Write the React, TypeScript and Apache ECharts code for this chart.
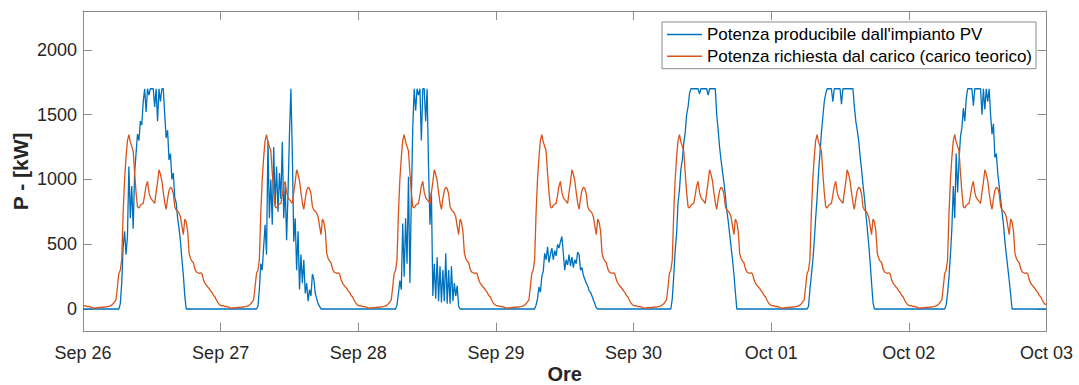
import React, { useEffect, useRef } from "react";
import * as echarts from "echarts";

// Tick labels
const dayLabels = ["Sep 26", "Sep 27", "Sep 28", "Sep 29", "Sep 30", "Oct 01", "Oct 02", "Oct 03"];
const yTicks = [0, 500, 1000, 1500, 2000];
const stepHours = 0.25; // 15-minute samples

const seriesNames = [
  "Potenza producibile dall'impianto PV",
  "Potenza richiesta dal carico (carico teorico)",
];

// Theoretical load: the same 96-sample (15 min) profile every day, kW
const caricoGiornaliero = [
  28, 24, 26, 18, 20, 16, 12, 8, 6, 10, 8, 12, 10, 14, 12, 16,
  15, 18, 20, 24, 30, 40, 55, 70, 170, 275, 300, 380, 740, 1000, 1170, 1300,
  1345, 1290, 1255, 1220, 1050, 900, 790, 780, 800, 810, 815, 880, 950, 985, 900, 860,
  845, 830, 815, 900, 980, 1075, 1040, 990, 900, 820, 770, 850, 915, 940, 930, 890,
  790, 765, 755, 740, 710, 640, 575, 695, 670, 600, 430, 390, 370, 357, 310, 287,
  280, 275, 280, 270, 225, 200, 185, 170, 158, 140, 128, 105, 95, 70, 50, 35,
];
const caricoFine = 38;

// PV power, 96 samples (15 min) per day, kW
const pvSep26 = [
  0, 0, 0, 0, 0, 0, 0, 0, 0, 0, 0, 0, 0, 0, 0, 0,
  0, 0, 0, 0, 0, 0, 0, 0, 0, 0, 40, 200, 480, 600, 420, 560,
  1100, 700, 950, 620, 1050, 1200, 1350, 1300, 1450, 1420, 1600, 1700, 1520, 1700, 1650, 1700,
  1700, 1700, 1560, 1700, 1450, 1700, 1600, 1700, 1700, 1500, 1320, 1380, 1150, 1200, 1000, 1050,
  860, 820, 700, 620, 520, 380, 260, 100, 0, 0, 0, 0, 0, 0, 0, 0,
  0, 0, 0, 0, 0, 0, 0, 0, 0, 0, 0, 0, 0, 0, 0, 0,
];
const pvSep27 = [
  0, 0, 0, 0, 0, 0, 0, 0, 0, 0, 0, 0, 0, 0, 0, 0,
  0, 0, 0, 0, 0, 0, 0, 0, 0, 0, 20, 150, 350, 300, 480, 650,
  420, 1300, 700, 1000, 650, 1250, 800, 1100, 750, 1050, 850, 1290, 700, 950, 530, 900,
  1350, 1700, 1200, 520, 700, 300, 600, 150, 420, 200, 380, 120, 200, 60, 150, 100,
  270, 230, 120, 80, 40, 20, 0, 0, 0, 0, 0, 0, 0, 0, 0, 0,
  0, 0, 0, 0, 0, 0, 0, 0, 0, 0, 0, 0, 0, 0, 0, 0,
];
const pvSep28 = [
  0, 0, 0, 0, 0, 0, 0, 0, 0, 0, 0, 0, 0, 0, 0, 0,
  0, 0, 0, 0, 0, 0, 0, 0, 0, 0, 0, 30, 120, 220, 150, 660,
  250, 700, 350, 1020, 200, 850, 1400, 1700, 1530, 1700, 1650, 1700, 1300, 1700, 1700, 1450,
  1700, 1100, 650, 900, 100, 350, 80, 400, 60, 330, 50, 300, 60, 430, 40, 300,
  40, 330, 60, 200, 100, 180, 20, 0, 0, 0, 0, 0, 0, 0, 0, 0,
  0, 0, 0, 0, 0, 0, 0, 0, 0, 0, 0, 0, 0, 0, 0, 0,
];
const pvSep29 = [
  0, 0, 0, 0, 0, 0, 0, 0, 0, 0, 0, 0, 0, 0, 0, 0,
  0, 0, 0, 0, 0, 0, 0, 0, 0, 0, 0, 0, 30, 80, 170, 130,
  250, 290, 430, 380, 480, 360, 420, 470, 380, 450, 410, 500, 470, 520, 560, 430,
  300, 380, 340, 420, 330, 400, 320, 380, 350, 440, 420, 300, 320, 260, 230, 200,
  180, 140, 130, 100, 70, 40, 10, 0, 0, 0, 0, 0, 0, 0, 0, 0,
  0, 0, 0, 0, 0, 0, 0, 0, 0, 0, 0, 0, 0, 0, 0, 0,
];
const pvSep30 = [
  0, 0, 0, 0, 0, 0, 0, 0, 0, 0, 0, 0, 0, 0, 0, 0,
  0, 0, 0, 0, 0, 0, 0, 0, 0, 0, 0, 80, 250, 450, 580, 820,
  920, 1080, 1150, 1280, 1360, 1500, 1560, 1660, 1700, 1700, 1700, 1700, 1700, 1700, 1660, 1700,
  1700, 1700, 1700, 1700, 1650, 1700, 1700, 1700, 1700, 1700, 1500, 1380, 1250, 1150, 1060, 980,
  880, 760, 680, 580, 480, 380, 270, 130, 0, 0, 0, 0, 0, 0, 0, 0,
  0, 0, 0, 0, 0, 0, 0, 0, 0, 0, 0, 0, 0, 0, 0, 0,
];
const pvOct01 = [
  0, 0, 0, 0, 0, 0, 0, 0, 0, 0, 0, 0, 0, 0, 0, 0,
  0, 0, 0, 0, 0, 0, 0, 0, 0, 0, 20, 150, 260, 370, 520, 700,
  860, 1050, 1200, 1360, 1480, 1600, 1660, 1700, 1700, 1700, 1700, 1600, 1700, 1700, 1700, 1700,
  1700, 1580, 1700, 1700, 1700, 1700, 1700, 1700, 1700, 1700, 1560, 1450, 1380, 1300, 1180, 1080,
  960, 860, 740, 620, 500, 360, 200, 50, 0, 0, 0, 0, 0, 0, 0, 0,
  0, 0, 0, 0, 0, 0, 0, 0, 0, 0, 0, 0, 0, 0, 0, 0,
];
const pvOct02 = [
  0, 0, 0, 0, 0, 0, 0, 0, 0, 0, 0, 0, 0, 0, 0, 0,
  0, 0, 0, 0, 0, 0, 0, 0, 0, 0, 30, 120, 250, 420, 620, 950,
  700, 1200, 900, 1150, 1330, 1400, 1550, 1450, 1620, 1700, 1700, 1700, 1700, 1570, 1700, 1700,
  1700, 1700, 1700, 1500, 1700, 1540, 1700, 1600, 1700, 1500, 1350, 1430, 1170, 1200, 1050, 950,
  850, 750, 650, 520, 420, 320, 220, 110, 0, 0, 0, 0, 0, 0, 0, 0,
  0, 0, 0, 0, 0, 0, 0, 0, 0, 0, 0, 0, 0, 0, 0, 0,
];
const pvFine = 0;

const pvDays = [pvSep26, pvSep27, pvSep28, pvSep29, pvSep30, pvOct01, pvOct02];

const FONT = "'Liberation Sans', Arial, Helvetica, sans-serif";
const AXIS = "#8c8c8c";
const TEXT = "#262626";

function toPairs(values: number[]): [number, number][] {
  return values.map((v, i) => [i * stepHours, v]);
}

export default function App() {
  const ref = useRef<HTMLDivElement>(null);

  useEffect(() => {
    if (!ref.current) return;
    const chart = echarts.init(ref.current, undefined, { renderer: "svg" });

    const pvValues: number[] = [];
    pvDays.forEach((d) => pvValues.push(...d));
    pvValues.push(pvFine);
    const loadValues: number[] = [];
    pvDays.forEach(() => loadValues.push(...caricoGiornaliero));
    loadValues.push(caricoFine);

    const tickStyle = { show: true, inside: true, length: 9, lineStyle: { color: AXIS, width: 1 } };
    const lineStyle = { show: true, onZero: false, lineStyle: { color: AXIS, width: 1 } };

    chart.setOption({
      animation: false,
      backgroundColor: "#ffffff",
      grid: { left: 83, right: 32.5, top: 11, bottom: 53.3, containLabel: false, outerBoundsMode: "none" },
      legend: {
        show: true,
        orient: "vertical",
        left: 662,
        top: 22,
        icon: "rect",
        itemWidth: 35,
        itemHeight: 1.5,
        itemGap: 4.7,
        padding: [4, 4, 4, 5],
        backgroundColor: "#ffffff",
        borderColor: AXIS,
        borderWidth: 1,
        borderRadius: 0,
        textStyle: { fontSize: 17, lineHeight: 17, color: "#000000", fontFamily: FONT },
        data: seriesNames,
      },
      xAxis: [
        {
          type: "value",
          position: "bottom",
          min: 0,
          max: 168,
          interval: 24,
          axisLine: lineStyle,
          axisTick: tickStyle,
          splitLine: { show: false },
          axisLabel: {
            formatter: (v: number) => dayLabels[Math.round(v / 24)],
            color: TEXT,
            fontSize: 18,
            fontFamily: FONT,
            margin: 12,
          },
          name: "Ore",
          nameLocation: "middle",
          nameGap: 32,
          nameMoveOverlap: false,
          nameTextStyle: { fontSize: 20, lineHeight: 20, fontWeight: "bold", color: TEXT, fontFamily: FONT },
        },
        {
          type: "value",
          position: "top",
          min: 0,
          max: 168,
          interval: 24,
          axisLine: lineStyle,
          axisTick: tickStyle,
          splitLine: { show: false },
          axisLabel: { show: false },
        },
      ],
      yAxis: [
        {
          type: "value",
          position: "left",
          min: -175,
          max: 2300,
          axisLine: lineStyle,
          axisTick: { ...tickStyle, customValues: yTicks },
          splitLine: { show: false },
          axisLabel: {
            customValues: yTicks,
            formatter: (v: number) => String(v),
            color: TEXT,
            fontSize: 18,
            fontFamily: FONT,
            margin: 6,
          },
          name: "P - [kW]",
          nameLocation: "middle",
          nameGap: 52,
          nameRotate: 90,
          nameMoveOverlap: false,
          nameTextStyle: { fontSize: 21, fontWeight: "bold", color: TEXT, fontFamily: FONT },
        },
        {
          type: "value",
          position: "right",
          min: -175,
          max: 2300,
          axisLine: lineStyle,
          axisTick: { ...tickStyle, customValues: yTicks },
          splitLine: { show: false },
          axisLabel: { show: false },
        },
      ],
      series: [
        {
          name: seriesNames[0],
          type: "line",
          xAxisIndex: 0,
          yAxisIndex: 0,
          data: toPairs(pvValues),
          symbol: "none",
          showSymbol: false,
          lineStyle: { color: "#0072BD", width: 1.3 },
          itemStyle: { color: "#0072BD" },
        },
        {
          name: seriesNames[1],
          type: "line",
          xAxisIndex: 0,
          yAxisIndex: 0,
          data: toPairs(loadValues),
          symbol: "none",
          showSymbol: false,
          lineStyle: { color: "#D95319", width: 1.3 },
          itemStyle: { color: "#D95319" },
        },
      ],
    });

    return () => chart.dispose();
  }, []);

  return (
    <div
      ref={ref}
      style={{ position: "fixed", left: 0, top: 0, width: 1079, height: 385, background: "#fff" }}
    />
  );
}
